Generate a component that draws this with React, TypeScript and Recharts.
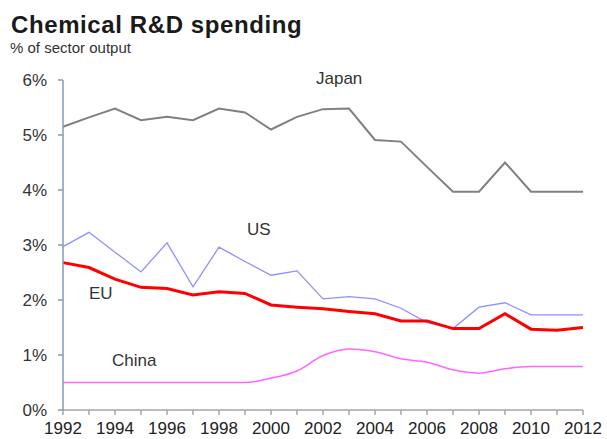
import React from 'react';
import { LineChart, Line, XAxis, YAxis } from 'recharts';

const years = [1992, 1993, 1994, 1995, 1996, 1997, 1998, 1999, 2000, 2001, 2002, 2003, 2004, 2005, 2006, 2007, 2008, 2009, 2010, 2011, 2012];
const japan = [5.15, 5.32, 5.48, 5.27, 5.33, 5.27, 5.48, 5.41, 5.10, 5.33, 5.47, 5.48, 4.91, 4.88, 4.42, 3.97, 3.97, 4.50, 3.97, 3.97, 3.97];
const us = [2.97, 3.23, 2.87, 2.51, 3.04, 2.24, 2.96, 2.70, 2.45, 2.53, 2.02, 2.06, 2.02, 1.85, 1.59, 1.48, 1.87, 1.95, 1.73, 1.73, 1.73];
const eu = [2.68, 2.59, 2.38, 2.23, 2.21, 2.09, 2.15, 2.12, 1.91, 1.87, 1.84, 1.79, 1.75, 1.62, 1.62, 1.48, 1.48, 1.75, 1.47, 1.45, 1.50];
const china = [0.50, 0.50, 0.50, 0.50, 0.50, 0.50, 0.50, 0.50, 0.58, 0.71, 0.99, 1.11, 1.06, 0.93, 0.87, 0.73, 0.67, 0.75, 0.79, 0.79, 0.79];
const yTicks = [0, 1, 2, 3, 4, 5, 6];

const data = years.map((y, i) => ({ year: y, japan: japan[i], us: us[i], eu: eu[i], china: china[i] }));

const FONT = '"Liberation Sans", Arial, sans-serif';

const labelStyle: React.CSSProperties = {
  position: 'absolute',
  fontFamily: FONT,
  fontSize: 17,
  color: '#333',
  lineHeight: 1,
  whiteSpace: 'nowrap',
};

export default function App() {
  return (
    <div style={{ position: 'absolute', left: 0, top: 0, width: 607, height: 439, background: '#fff' }}>
      <div style={{ position: 'absolute', left: 11, top: 13, fontFamily: FONT, fontWeight: 'bold', fontSize: 24, letterSpacing: 0.6, color: '#1a1a1a', lineHeight: 1, whiteSpace: 'nowrap' }}>
        Chemical R&amp;D spending
      </div>
      <div style={{ position: 'absolute', left: 10, top: 40, fontFamily: FONT, fontSize: 15, color: '#333', lineHeight: 1, whiteSpace: 'nowrap' }}>
        % of sector output
      </div>
      <div style={{ position: 'absolute', left: 0, top: 0 }}>
        <LineChart width={607} height={439} data={data} margin={{ top: 80, right: 24, left: 13, bottom: 0 }}>
          <XAxis
            dataKey="year"
            type="number"
            domain={[1992, 2012]}
            ticks={years}
            interval={0}
            height={29}
            axisLine={{ stroke: '#a6a6a6', strokeWidth: 1.5 }}
            tickLine={{ stroke: '#a6a6a6', strokeWidth: 1.5 }}
            tickSize={5}
            tickMargin={7}
            tickFormatter={(v: number) => (v % 2 === 0 ? String(v) : '')}
            tick={{ fill: '#222', fontSize: 17, fontFamily: FONT }}
          />
          <YAxis
            type="number"
            domain={[0, 6]}
            ticks={yTicks}
            interval={0}
            width={50}
            axisLine={{ stroke: '#7f9db9', strokeWidth: 1.5 }}
            tickLine={{ stroke: '#7f9db9', strokeWidth: 1.5 }}
            tickSize={5}
            tickMargin={11}
            tickFormatter={(v: number) => `${v}%`}
            tick={{ fill: '#333', fontSize: 17, fontFamily: FONT }}
          />
          <Line dataKey="china" type="monotone" stroke="#ff66ff" strokeWidth={1.5} dot={false} isAnimationActive={false} />
          <Line dataKey="us" type="linear" stroke="#8f8fff" strokeWidth={1.3} dot={false} isAnimationActive={false} />
          <Line dataKey="eu" type="linear" stroke="#ff0000" strokeWidth={3} dot={false} isAnimationActive={false} />
          <Line dataKey="japan" type="linear" stroke="#808080" strokeWidth={2} dot={false} isAnimationActive={false} />
        </LineChart>
      </div>
      <div style={{ ...labelStyle, left: 316, top: 70 }}>Japan</div>
      <div style={{ ...labelStyle, left: 247, top: 221 }}>US</div>
      <div style={{ ...labelStyle, left: 89, top: 285 }}>EU</div>
      <div style={{ ...labelStyle, left: 112, top: 352 }}>China</div>
    </div>
  );
}
